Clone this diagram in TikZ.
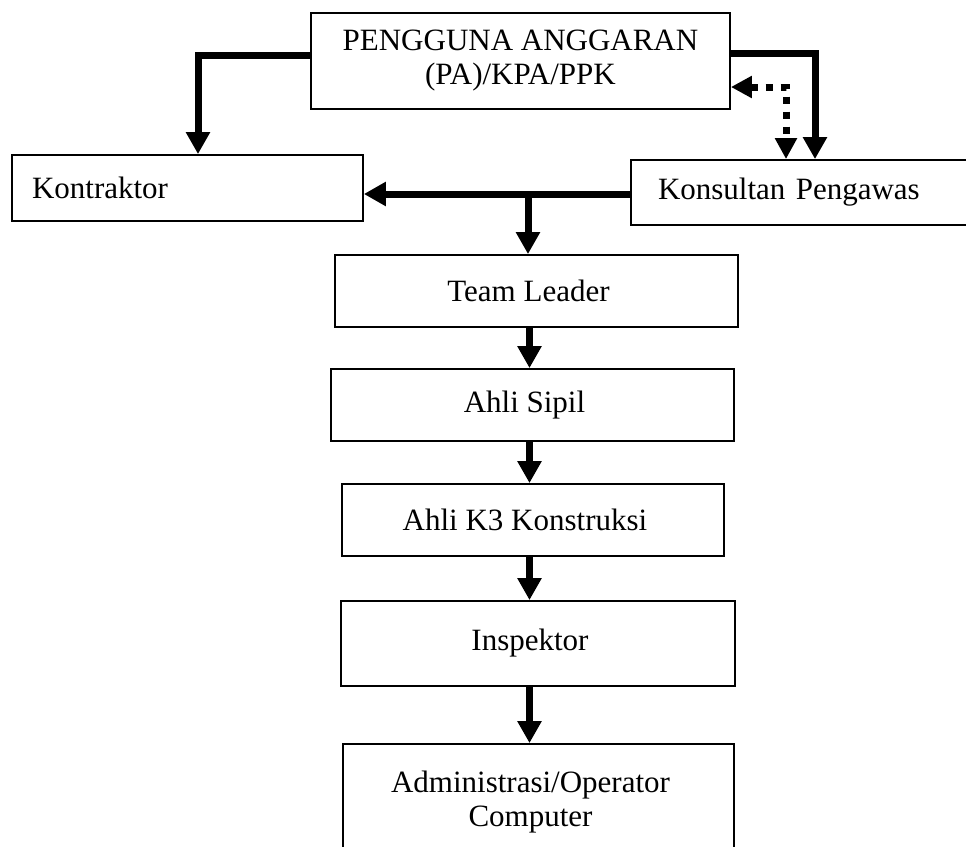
\documentclass[tikz,border=0pt]{standalone}
\usepackage{fontspec}
\setmainfont{Liberation Serif}
\usetikzlibrary{arrows.meta}
\begin{document}
\begin{tikzpicture}[x=1pt,y=-1pt,
  box/.style={draw, line width=1.8pt, inner sep=0pt, font=\fontsize{31}{34}\selectfont},
  sh/.style={execute at begin node=\hspace*{-16pt}},
  arr/.style={line width=7pt, -{Triangle[width=23pt,length=22pt]}},
  dotarr/.style={line width=7pt, dash pattern=on 7pt off 8pt,
    {Triangle[width=21pt,length=21pt]}-{Triangle[width=21pt,length=21pt]}}]
\clip (0,0) rectangle (966,846);
\fill[white] (0,0) rectangle (966,846);
% boxes
\node[box, minimum width=419pt, minimum height=96pt, align=center] (pa) at (520.5,61) {PENGGUNA ANGGARAN\\(PA)/KPA/PPK};
\node[box, minimum height=66pt, text width=311pt, inner xsep=20pt, align=left] (kon) at (187.5,188) {Kontraktor};
\node[box, minimum height=65pt, text width=333pt, inner xsep=27pt, align=left] (kons) at (824.5,192.5) {Konsultan Pengawas};
\node[box, sh, minimum width=403pt, minimum height=72pt] (tl) at (536.5,291) {Team Leader};
\node[box, sh, minimum width=403pt, minimum height=72pt] (as) at (532.5,405) {Ahli Sipil};
\node[box, sh, minimum width=382pt, minimum height=72pt] (k3) at (533,520) {Ahli K3 Konstruksi};
\node[box, sh, minimum width=394pt, minimum height=85pt] (insp) at (538,643.5) {Inspektor};
\node[box, minimum width=391pt, minimum height=116pt, align=center] (adm) at (538.5,802) {\hspace*{-16pt}Administrasi/Operator\\\hspace*{-16pt}Computer};
% connectors
\draw[arr] ([yshift=6pt]pa.west) -| ([xshift=10.5pt]kon.north);
\draw[arr] ([yshift=8pt]pa.east) -| ([xshift=-9.5pt]kons.north);
\draw[dotarr] ([yshift=-26pt]pa.east) -| ([xshift=-38.5pt]kons.north);
\coordinate (br) at (528,194);
\draw[arr] (br -| kons.west) -- (br -| kon.east);
\draw[arr] (br) -- (br |- tl.north);
\coordinate (ax) at (529.5,0);
\draw[arr] (tl.south -| ax) -- (as.north -| ax);
\draw[arr] (as.south -| ax) -- (k3.north -| ax);
\draw[arr] (k3.south -| ax) -- (insp.north -| ax);
\draw[arr] (insp.south -| ax) -- (adm.north -| ax);
\end{tikzpicture}
\end{document}
